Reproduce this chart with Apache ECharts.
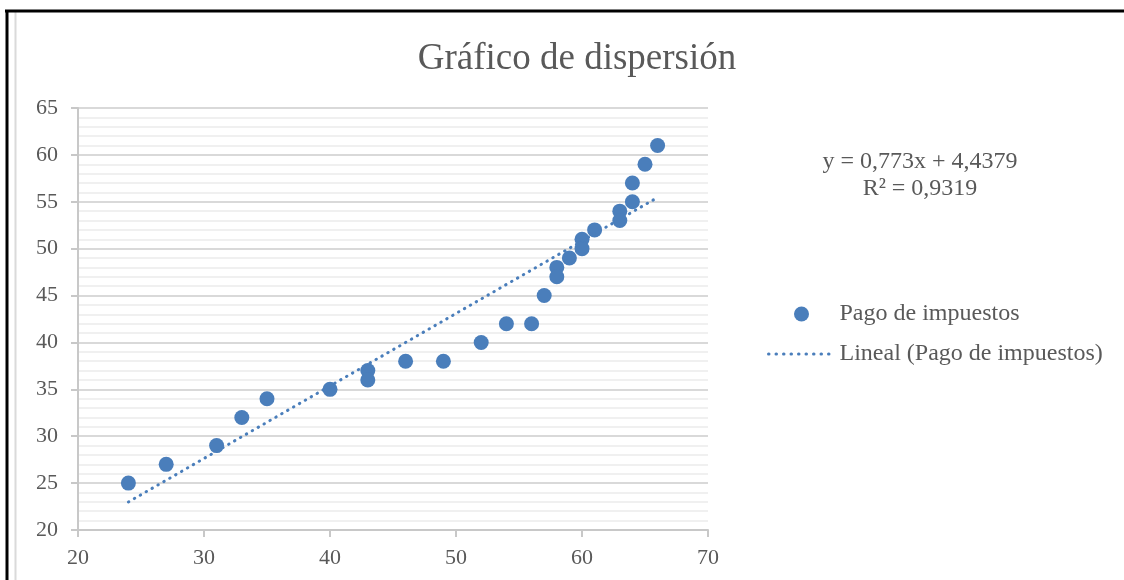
<!DOCTYPE html>
<html>
<head>
<meta charset="utf-8">
<script src="https://cdn.jsdelivr.net/npm/echarts@6/dist/echarts.min.js"></script>
<style>
html,body{margin:0;padding:0;background:#fff;}
#chart{width:1124px;height:580px;}
</style>
</head>
<body>
<div id="chart"></div>
<script>
const titleText = 'Gráfico de dispersión';
const seriesName = 'Pago de impuestos';
const trendName = 'Lineal (Pago de impuestos)';
const equationLines = ['y = 0,773x + 4,4379', 'R² = 0,9319'];

const xValues = [24, 27, 31, 33, 35, 40, 43, 43, 46, 49, 52, 54, 56, 57, 58, 58, 59, 60, 60, 61, 63, 63, 64, 64, 65, 66];
const yValues = [25, 27, 29, 32, 34, 35, 37, 36, 38, 38, 40, 42, 42, 45, 48, 47, 49, 51, 50, 52, 54, 53, 55, 57, 59, 61];

const trendX = [24, 66];
const trendY = [22.99, 55.46];

const xTicks = {min: 20, max: 70, interval: 10};
const yTicks = {min: 20, max: 65, interval: 5};

const font = '"Liberation Serif", "Times New Roman", serif';
const labelColor = '#595959';
const blue = '#4A7EBB';
const dotted = {color: blue, width: 3, type: [0.5, 6.3], cap: 'round'};

const chart = echarts.init(document.getElementById('chart'), null, {renderer: 'canvas'});

chart.setOption({
  animation: false,
  backgroundColor: '#ffffff',
  title: {
    text: titleText,
    left: 572,
    textAlign: 'center',
    top: 36,
    textStyle: {fontFamily: font, fontSize: 37, fontWeight: 'normal', color: labelColor}
  },
  grid: {left: 78, right: 416, top: 108, bottom: 50, containLabel: false},
  legend: {
    orient: 'vertical',
    left: 762,
    top: 297,
    itemWidth: 66,
    itemHeight: 15,
    itemGap: 16,
    textStyle: {fontFamily: font, fontSize: 24, color: labelColor},
    data: [
      {name: seriesName, icon: 'circle'},
      {name: trendName, itemStyle: {color: 'rgba(0,0,0,0)', borderWidth: 0, opacity: 0}, lineStyle: {color: blue, width: 3, type: [0.5, 7], cap: 'round'}}
    ]
  },
  xAxis: {
    type: 'value',
    min: xTicks.min, max: xTicks.max, interval: xTicks.interval,
    axisLine: {show: true, lineStyle: {color: '#c8c8c8', width: 2}},
    axisTick: {show: true, length: 7, lineStyle: {color: '#c8c8c8', width: 2}},
    axisLabel: {fontFamily: font, fontSize: 22, color: labelColor, margin: 17},
    splitLine: {show: false}
  },
  yAxis: {
    type: 'value',
    min: yTicks.min, max: yTicks.max, interval: yTicks.interval,
    axisLine: {show: true, lineStyle: {color: '#c8c8c8', width: 2}},
    axisTick: {show: true, length: 7, lineStyle: {color: '#c8c8c8', width: 2}},
    axisLabel: {fontFamily: font, fontSize: 22, color: labelColor, margin: 20},
    splitLine: {show: true, lineStyle: {color: '#d9d9d9', width: 2}},
    minorTick: {show: false, splitNumber: 5},
    minorSplitLine: {show: true, lineStyle: {color: '#f0f0f0', width: 2}}
  },
  graphic: [
    {type: 'line', shape: {x1: 15.5, y1: 12, x2: 15.5, y2: 580}, style: {stroke: '#dadada', lineWidth: 2}, z: 0},
    {type: 'line', shape: {x1: 5, y1: 11, x2: 1124, y2: 11}, style: {stroke: '#000', lineWidth: 3}, z: 10},
    {type: 'line', shape: {x1: 7, y1: 10, x2: 7, y2: 580}, style: {stroke: '#000', lineWidth: 3}, z: 10},
    {type: 'text', x: 920, y: 162, style: {text: equationLines[0], font: '24px ' + font, fill: labelColor, textAlign: 'center', textVerticalAlign: 'middle'}},
    {type: 'text', x: 920, y: 189, style: {text: equationLines[1], font: '24px ' + font, fill: labelColor, textAlign: 'center', textVerticalAlign: 'middle'}}
  ],
  series: [
    {
      name: seriesName,
      type: 'scatter',
      symbol: 'circle',
      symbolSize: 15,
      itemStyle: {color: blue, opacity: 1},
      data: xValues.map((x, i) => [x, yValues[i]]),
      z: 3
    },
    {
      name: trendName,
      type: 'line',
      symbol: 'none',
      showSymbol: false,
      itemStyle: {color: blue},
      lineStyle: dotted,
      data: trendX.map((x, i) => [x, trendY[i]]),
      z: 4
    }
  ]
});
</script>
</body>
</html>
